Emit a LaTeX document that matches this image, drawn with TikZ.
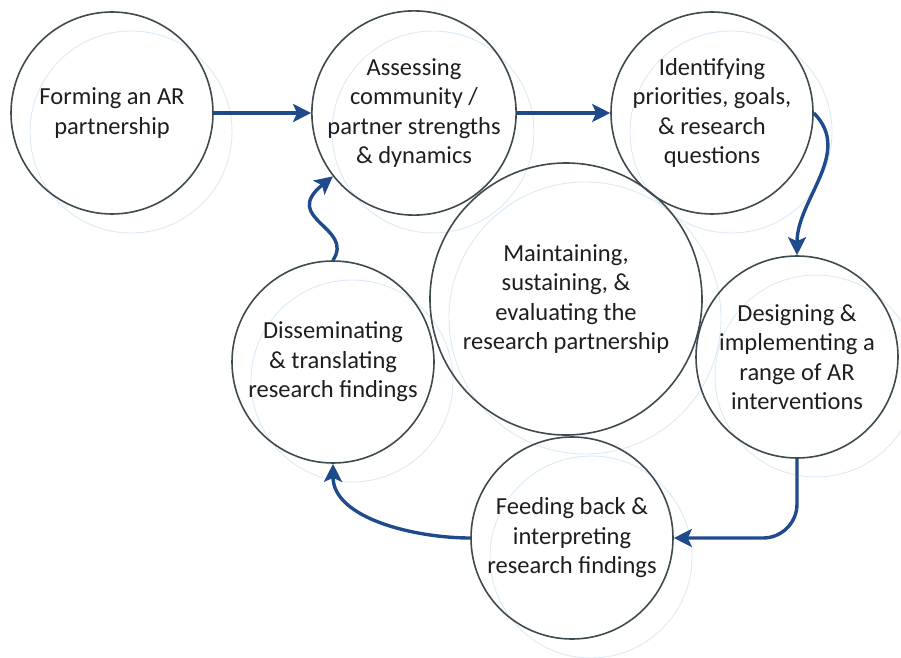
\documentclass[tikz,border=0pt]{standalone}
\usepackage{fontspec}
\setmainfont{Carlito}
\usepackage{xcolor}
\usetikzlibrary{positioning,calc,arrows.meta,backgrounds}

\definecolor{ringgray}{HTML}{3E4A4E}
\definecolor{ringshade}{HTML}{DCEAF6}
\definecolor{flowblue}{HTML}{1F4B8C}
\definecolor{textdark}{HTML}{1E1E1E}

\begin{document}
\begin{tikzpicture}[x=1pt, y=1pt,
    stage/.style={draw=ringgray, circle, line width=1.6pt, minimum size=202pt, inner sep=0pt,
        align=center, text=textdark, font=\fontsize{24.5}{29.5}\selectfont},
    bigstage/.style={stage, minimum size=272pt},
    shade/.style={draw=ringshade, line width=0.9pt},
    flow/.style={draw=flowblue, line width=3.4pt, -{Stealth[length=18pt, width=18pt, inset=4pt]}}]
    \useasboundingbox (0,0) rectangle (901,657);

    % Stages of the cycle
    \node[stage] (form) at (112,544) {Forming an AR\\partnership};
    \node[stage] (assess) at (414,544) {Assessing\\community /\\partner strengths\\\& dynamics};
    \node[stage] (ident) at (712,544) {Identifying\\priorities, goals,\\\& research\\questions};
    \node[bigstage] (maint) at (566,358) {Maintaining,\\sustaining, \&\\evaluating the\\research partnership};
    \node[stage] (design) at (797,300) {Designing \&\\implementing a\\range of AR\\interventions};
    \node[stage] (feed) at (572,119) {Feeding back \&\\interpreting\\research findings};
    \node[stage] (dissem) at (333,295) {Disseminating\\\& translating\\research findings};

    % Pale rings behind each stage
    \begin{scope}[on background layer]
        \foreach \n in {form,assess,ident,design,feed,dissem}
            \draw[shade] ($(\n.center)+(19,-19)$) circle[radius=101];
        \draw[shade] ($(maint.center)+(19,-19)$) circle[radius=136];
    \end{scope}

    % Arrows
    \draw[flow] (form.east) -- (assess.west);
    \draw[flow] (assess.east) -- (ident.west);
    \draw[flow] (ident.east) to[out=-45, in=90] (design.north);
    \draw[flow, rounded corners=34pt] (design.south) |- (feed.east);
    \draw[flow] (feed.west) to[out=180, in=-90, looseness=0.9] (dissem.south);
    \draw[flow] (dissem.north) .. controls (355,430) and (280,438) .. (assess.218);
\end{tikzpicture}
\end{document}
